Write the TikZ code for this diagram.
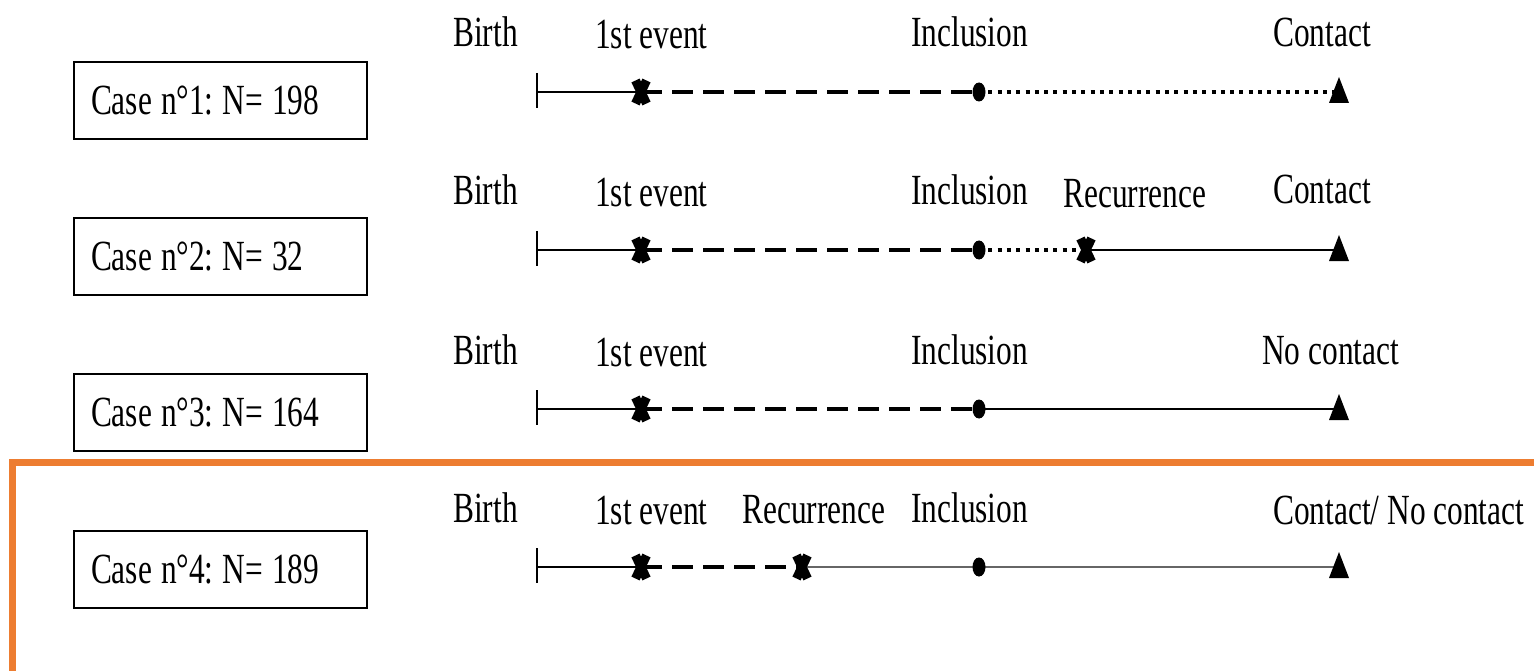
\documentclass[tikz,border=0pt]{standalone}
\usepackage{fontspec}
\setmainfont{Liberation Serif}[FakeStretch=0.73]
\definecolor{frameorange}{HTML}{ED7D31}
\newcommand\casetxt[1]{\spaceskip=9pt plus 1pt minus 1pt\relax #1}
\begin{document}
\frenchspacing
\begin{tikzpicture}[x=1pt,y=-1pt,
  font=\fontsize{43}{50}\selectfont\frenchspacing,
  casebox/.style={draw, line width=2pt, anchor=north west, minimum height=77pt,
    text width=259pt, inner xsep=17pt, inner ysep=0pt, align=left},
  lbl/.style={anchor=base west, inner sep=0pt},
  solidl/.style={line width=2pt},
  grayl/.style={line width=2pt, black!60},
  dashl/.style={line width=4pt, dash pattern=on 21pt off 10pt},
  dotl/.style={line width=4pt, dash pattern=on 4pt off 5.3pt},
  xm/.pic={\draw[line width=9pt] (-5.5,-11.5) -- (5.5,11.5) (5.5,-11.5) -- (-5.5,11.5);},
  dotm/.pic={\fill (0,0) ellipse [x radius=6.5pt, y radius=9.5pt];},
  tri/.pic={\fill (0,-15) -- (10,11) -- (-10,11) -- cycle;},
  ]
\useasboundingbox (0,0) rectangle (1534,671);

% orange frame
\coordinate (fr1) at (1540,462);
\coordinate (fr2) at (12,462);
\coordinate (fr3) at (12,680);
\draw[line width=7pt, frameorange, line join=miter] (fr1) -- (fr2) -- (fr3);

% case boxes
\node[casebox] (k1) at (73,61)  {\casetxt{Case n°1: N= 198}};
\node[casebox] (k2) at (73,217) {\casetxt{Case n°2: N= 32}};
\node[casebox] (k3) at (73,373) {\casetxt{Case n°3: N= 164}};
\node[casebox] (k4) at (73,530) {\casetxt{Case n°4: N= 189}};

% ---------- Row 1
\coordinate (b1) at (537,92);
\coordinate (f1) at (641,92);
\coordinate (i1) at (979,92);
\coordinate (c1) at (1339,92);
\draw[solidl] ([yshift=19pt]b1) -- ([yshift=-16pt]b1);
\draw[solidl] (b1) -- (f1);
\draw[dashl] (f1) -- (i1);
\draw[dotl] (i1) -- (c1);
\pic at (f1) {xm};
\pic at (i1) {dotm};
\pic at (c1) {tri};
\node[lbl] (t1b) at (453,47) {Birth};
\node[lbl] (t1f) at (595,49) {1st event};
\node[lbl] (t1i) at (911,47) {Inclusion};
\node[lbl] (t1c) at (1273,47) {Contact};

% ---------- Row 2
\coordinate (b2) at (537,250);
\coordinate (f2) at (641,250);
\coordinate (i2) at (979,250);
\coordinate (r2) at (1086,250);
\coordinate (c2) at (1339,250);
\draw[solidl] ([yshift=19pt]b2) -- ([yshift=-16pt]b2);
\draw[solidl] (b2) -- (f2);
\draw[dashl] (f2) -- (i2);
\draw[dotl] (i2) -- (r2);
\draw[solidl] (r2) -- (c2);
\pic at (f2) {xm};
\pic at (i2) {dotm};
\pic at (r2) {xm};
\pic at (c2) {tri};
\node[lbl] (t2b) at (453,205) {Birth};
\node[lbl] (t2f) at (595,207) {1st event};
\node[lbl] (t2i) at (911,205) {Inclusion};
\node[lbl] (t2r) at (1063,208) {Recurrence};
\node[lbl] (t2c) at (1273,204) {Contact};

% ---------- Row 3
\coordinate (b3) at (537,409);
\coordinate (f3) at (641,409);
\coordinate (i3) at (979,409);
\coordinate (c3) at (1339,409);
\draw[solidl] ([yshift=19pt]b3) -- ([yshift=-16pt]b3);
\draw[solidl] (b3) -- (f3);
\draw[dashl] (f3) -- (i3);
\draw[solidl] (i3) -- (c3);
\pic at (f3) {xm};
\pic at (i3) {dotm};
\pic at (c3) {tri};
\node[lbl] (t3b) at (453,364) {Birth};
\node[lbl] (t3f) at (595,366) {1st event};
\node[lbl] (t3i) at (911,364) {Inclusion};
\node[lbl] (t3c) at (1262,364) {No contact};

% ---------- Row 4
\coordinate (b4) at (537,567);
\coordinate (f4) at (641,567);
\coordinate (r4) at (802,567);
\coordinate (i4) at (979,567);
\coordinate (c4) at (1339,567);
\draw[solidl] ([yshift=19pt]b4) -- ([yshift=-16pt]b4);
\draw[solidl] (b4) -- (f4);
\draw[dashl] (f4) -- (r4);
\draw[grayl] (r4) -- (i4);
\draw[grayl] (i4) -- (c4);
\pic at (f4) {xm};
\pic at (r4) {xm};
\pic at (i4) {dotm};
\pic at (c4) {tri};
\node[lbl] (t4b) at (453,522) {Birth};
\node[lbl] (t4f) at (595,524) {1st event};
\node[lbl] (t4r) at (742,523) {Recurrence};
\node[lbl] (t4i) at (911,522) {Inclusion};
\node[lbl] (t4c) at (1273,524) {Contact/ No contact};
\end{tikzpicture}
\end{document}
